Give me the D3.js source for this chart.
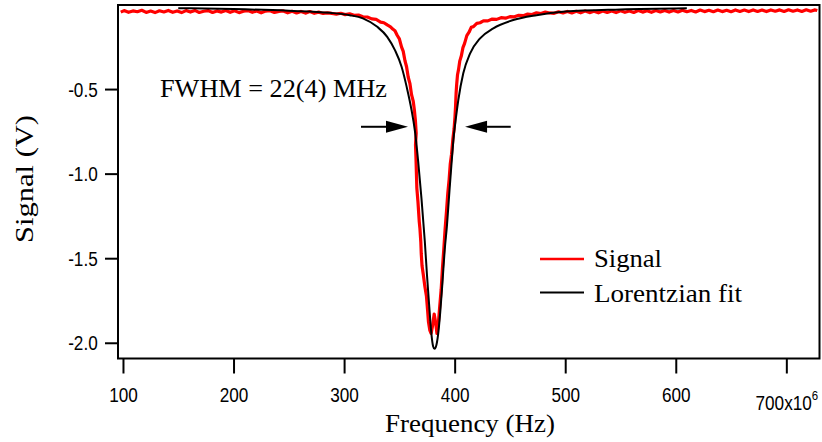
<!DOCTYPE html>
<html>
<head>
<meta charset="utf-8">
<script src="https://cdn.jsdelivr.net/npm/d3@7"></script>
<style>
  body { margin: 0; background: #fff; }
  svg { display: block; }
</style>
</head>
<body>
<svg id="chart" width="822" height="442"></svg>
<script>
// ---- data ----------------------------------------------------------------
const xTicks = [100, 200, 300, 400, 500, 600, 700];
const yTicks = [-0.5, -1.0, -1.5, -2.0];

// measured transmission signal (frequency in MHz, signal in V)
const signalFreq = [
  98, 101, 105, 109, 113, 117, 121, 125, 129, 133, 137, 141, 145, 149, 153, 157,
  161, 165, 169, 173, 177, 181, 185, 189, 193, 197, 201, 205, 209, 213, 217, 221,
  225, 229, 233, 237, 241, 245, 249, 253, 257, 261, 265, 269, 273, 277, 281, 285,
  289, 293, 297, 301, 305, 309, 313, 317, 321, 325, 329, 333, 336, 339, 342, 344,
  346, 348, 350, 352, 353.5, 355, 356.5, 358, 359.5, 361, 362.5, 363.5, 364.5, 365.2,
  364.6, 365.0, 365.4, 365.8, 366.8, 368, 368.6, 369.4, 369.8, 370.5, 371.6, 373,
  374.5, 375.5, 376.3, 377.5, 378.7, 380, 381.5, 382.8, 384, 385.2, 386.5, 387.8,
  389, 390.2, 391.4, 392.6, 393.8, 395, 396, 397.2, 398.4, 399.5, 400.3, 400.8,
  401.3, 401.8, 402.6, 403.5, 404.6, 406, 407.5, 409, 411, 413, 415, 417, 420, 423,
  426, 430, 434, 438, 442, 446, 450, 454, 458, 462, 466, 470, 474, 478, 482, 486,
  490, 494, 498, 502, 506, 510, 514, 518, 522, 526, 530, 534, 538, 542, 546, 550,
  554, 558, 562, 566, 570, 574, 578, 582, 586, 590, 594, 598, 602, 606, 610, 614,
  618, 622, 626, 630, 634, 638, 642, 646, 650, 654, 658, 662, 666, 670, 674, 678,
  682, 686, 690, 694, 698, 702, 706, 710, 714, 718, 722, 726, 728
];
const signalV = [
  -0.045, -0.036, -0.046, -0.038, -0.043, -0.034, -0.047, -0.039, -0.048, -0.037, -0.044, -0.035, -0.046, -0.038, -0.048, -0.036,
  -0.045, -0.035, -0.047, -0.040, -0.036, -0.047, -0.038, -0.045, -0.035, -0.046, -0.037, -0.048, -0.040, -0.036, -0.046, -0.038,
  -0.049, -0.039, -0.037, -0.047, -0.041, -0.038, -0.049, -0.040, -0.050, -0.041, -0.051, -0.042, -0.052, -0.045, -0.053, -0.050,
  -0.053, -0.057, -0.052, -0.060, -0.055, -0.064, -0.062, -0.073, -0.074, -0.085, -0.088, -0.104, -0.108, -0.121, -0.132, -0.145,
  -0.155, -0.182, -0.203, -0.252, -0.277, -0.331, -0.368, -0.430, -0.466, -0.533, -0.571, -0.620, -0.686, -0.760,
  -0.830, -0.905, -0.995, -1.085, -1.165, -1.285, -1.325, -1.405, -1.475, -1.545, -1.595, -1.665,
  -1.725, -1.805, -1.875, -1.925, -1.945, -1.900, -1.830, -1.880, -1.945, -1.890, -1.785, -1.685,
  -1.555, -1.445, -1.325, -1.225, -1.115, -1.035, -0.945, -0.885, -0.795, -0.735, -0.665, -0.605,
  -0.525, -0.475, -0.415, -0.385, -0.335, -0.305, -0.255, -0.230, -0.184, -0.164, -0.135, -0.131, -0.112, -0.108,
  -0.097, -0.097, -0.086, -0.088, -0.078, -0.081, -0.072, -0.073, -0.064, -0.066, -0.057, -0.059, -0.049, -0.053, -0.045, -0.050,
  -0.052, -0.043, -0.050, -0.041, -0.050, -0.040, -0.049, -0.039, -0.048, -0.040, -0.049, -0.038, -0.047, -0.039, -0.048, -0.037,
  -0.046, -0.038, -0.047, -0.036, -0.045, -0.037, -0.046, -0.036, -0.044, -0.035, -0.045, -0.036, -0.044, -0.034, -0.043, -0.035,
  -0.044, -0.033, -0.042, -0.034, -0.043, -0.033, -0.042, -0.034, -0.043, -0.032, -0.041, -0.033, -0.042, -0.032, -0.041, -0.033,
  -0.042, -0.032, -0.040, -0.032, -0.041, -0.031, -0.040, -0.032, -0.041, -0.031, -0.040, -0.032, -0.036
];

// Lorentzian fit to the dip
const fitFreq = [
  150, 200, 250, 287, 305, 317, 330, 339, 346, 352, 356.6, 361, 364, 367, 370, 373,
  375, 377, 379, 380.5, 381.8, 383, 385, 387, 389, 391, 393, 395, 397, 399.4, 401.2,
  403.3, 407.8, 414, 423, 435, 453, 474, 500, 550, 610
];
const fitV = [
  -0.022, -0.027, -0.037, -0.049, -0.063, -0.082, -0.132, -0.191, -0.270, -0.368, -0.487, -0.624, -0.745, -0.927, -1.148, -1.400,
  -1.602, -1.783, -1.950, -2.020, -2.036, -2.025, -1.954, -1.816, -1.640, -1.451, -1.310, -1.130, -0.955, -0.765, -0.668,
  -0.565, -0.407, -0.289, -0.200, -0.141, -0.092, -0.063, -0.042, -0.029, -0.022
];

const legendLabels = ["Signal", "Lorentzian fit"];
const fwhmLabel = "FWHM = 22(4) MHz";
const xTitle = "Frequency (Hz)";
const yTitle = "Signal (V)";

// ---- layout --------------------------------------------------------------
const plot = { left: 118, right: 819.5, top: 5, bottom: 358.5 };
const serif = "'Liberation Serif', 'Times New Roman', serif";
const sans = "'Liberation Sans', Arial, sans-serif";
const tickSquash = 0.88;

const x = d3.scaleLinear().domain([95.5, 730]).range([plot.left, plot.right]);
const y = d3.scaleLinear().domain([-2.093, -0.003]).range([plot.bottom, plot.top]);

const svg = d3.select("#chart");

// traces
const line = d3.line().x(d => x(d[0])).y(d => y(d[1]));
const signalPts = signalFreq.map((f, i) => [f, signalV[i]]);
const fitPts = fitFreq.map((f, i) => [f, fitV[i]]);

svg.append("path")
  .datum(signalPts)
  .attr("d", line)
  .attr("fill", "none")
  .attr("stroke", "#ff0000")
  .attr("stroke-width", 3.2)
  .attr("stroke-linejoin", "round");

svg.append("path")
  .datum(fitPts)
  .attr("d", d3.line().curve(d3.curveMonotoneX).x(d => x(d[0])).y(d => y(d[1])))
  .attr("fill", "none")
  .attr("stroke", "#000")
  .attr("stroke-width", 2);

// frame
svg.append("rect")
  .attr("x", plot.left).attr("y", plot.top)
  .attr("width", plot.right - plot.left).attr("height", plot.bottom - plot.top)
  .attr("fill", "none").attr("stroke", "#000").attr("stroke-width", 2);

// x axis
const xAxis = svg.append("g")
  .attr("transform", `translate(0,${plot.bottom})`)
  .call(d3.axisBottom(x).tickValues(xTicks).tickSize(15).tickFormat(d => d === 700 ? "" : d));
xAxis.select(".domain").remove();
xAxis.selectAll(".tick line").attr("stroke", "#000").attr("stroke-width", 2);
xAxis.selectAll(".tick text")
  .attr("y", 43.5).attr("dy", 0)
  .attr("transform", `scale(${tickSquash},1)`)
  .style("font-family", sans).style("font-size", "19.5px").attr("fill", "#000");

// last tick carries the exponent
const lastTick = xAxis.selectAll(".tick").filter(d => d === 700);
const expText = lastTick.append("text")
  .attr("y", 52).attr("text-anchor", "middle").attr("fill", "#000")
  .attr("transform", `scale(${tickSquash},1)`)
  .style("font-family", sans).style("font-size", "19.5px");
expText.append("tspan").text("700x10");
expText.append("tspan").attr("dy", -10).style("font-size", "13px").text("6");

// y axis
const yAxis = svg.append("g")
  .attr("transform", `translate(${plot.left},0)`)
  .call(d3.axisLeft(y).tickValues(yTicks).tickSize(13).tickFormat(d => d.toFixed(1)));
yAxis.select(".domain").remove();
yAxis.selectAll(".tick line").attr("stroke", "#000").attr("stroke-width", 2);
yAxis.selectAll(".tick text")
  .attr("x", -20.3 / tickSquash).attr("dy", "0.36em")
  .attr("transform", `scale(${tickSquash},1)`)
  .style("font-family", sans).style("font-size", "19.5px").attr("fill", "#000");

// axis titles
svg.append("text")
  .attr("x", 470).attr("y", 432)
  .attr("text-anchor", "middle")
  .attr("textLength", 170).attr("lengthAdjust", "spacingAndGlyphs")
  .style("font-family", serif).style("font-size", "26px")
  .text(xTitle);

svg.append("text")
  .attr("transform", "translate(33,179) rotate(-90)")
  .attr("text-anchor", "middle")
  .attr("textLength", 128).attr("lengthAdjust", "spacingAndGlyphs")
  .style("font-family", serif).style("font-size", "26px")
  .text(yTitle);

// FWHM annotation
svg.append("text")
  .attr("x", 160).attr("y", 97)
  .attr("textLength", 227).attr("lengthAdjust", "spacingAndGlyphs")
  .style("font-family", serif).style("font-size", "25px")
  .text(fwhmLabel);

const arrowV = -0.723;
const arrows = [
  { tail: 315.3, tip: 357.8 },
  { tail: 450.7, tip: 409.4 }
];
const headLen = 22, headHalf = 6;
arrows.forEach(a => {
  const xt = x(a.tail), xp = x(a.tip), yy = y(arrowV);
  const dir = Math.sign(xp - xt);
  const xb = xp - dir * headLen;
  svg.append("line")
    .attr("x1", xt).attr("x2", xb).attr("y1", yy).attr("y2", yy)
    .attr("stroke", "#000").attr("stroke-width", 2);
  svg.append("path")
    .attr("d", `M${xp},${yy} L${xb},${yy - headHalf} L${xb},${yy + headHalf} Z`)
    .attr("fill", "#000");
});

// legend
const legendRows = [
  { label: legendLabels[0], color: "#ff0000", width: 2.5, y: 259, ty: 267, len: 68 },
  { label: legendLabels[1], color: "#000", width: 2, y: 292.5, ty: 301.5, len: 148 }
];
const legend = svg.append("g");
legendRows.forEach(r => {
  legend.append("line")
    .attr("x1", 540).attr("x2", 584).attr("y1", r.y).attr("y2", r.y)
    .attr("stroke", r.color).attr("stroke-width", r.width);
  legend.append("text")
    .attr("x", 594).attr("y", r.ty)
    .attr("textLength", r.len).attr("lengthAdjust", "spacingAndGlyphs")
    .style("font-family", serif).style("font-size", "26px")
    .text(r.label);
});
</script>
</body>
</html>
